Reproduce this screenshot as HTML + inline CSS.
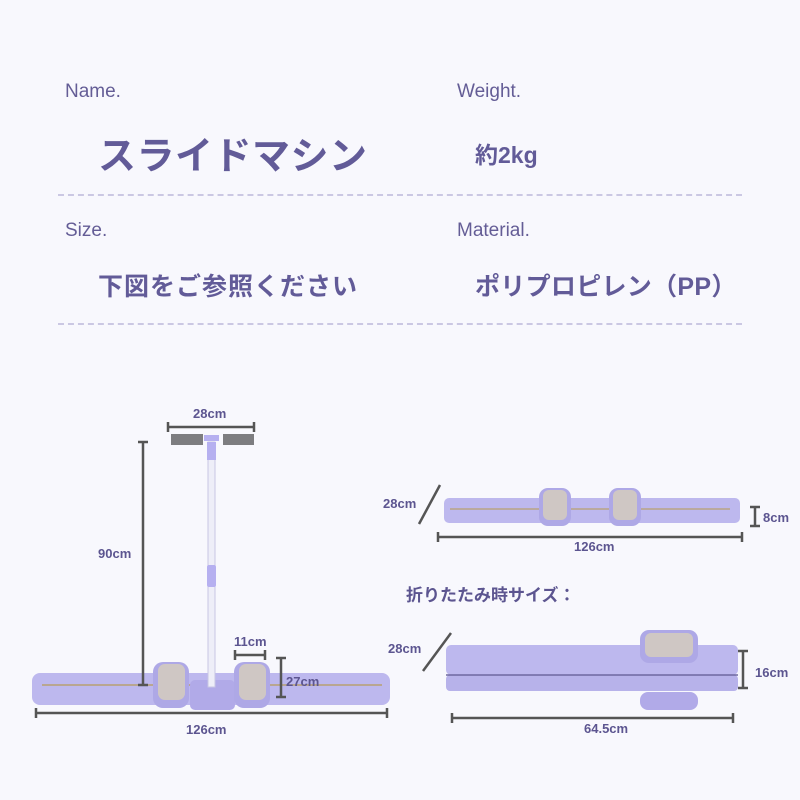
<!DOCTYPE html>
<html><head><meta charset="utf-8"><style>
body{margin:0;width:800px;height:800px;background:#f8f8fd;overflow:hidden;position:relative;font-family:"Liberation Sans","Noto Sans CJK JP",sans-serif;color:#625b98}
.t{position:absolute;white-space:nowrap}
.lab{font-size:19px;color:#645d96}
.b{font-weight:bold}
.dash{position:absolute;left:58px;width:684px;border-top:2px dashed #cbc8e3}
</style></head><body>
<div class="t lab" style="left:65px;top:81px">Name.</div>
<div class="t lab" style="left:457px;top:81px">Weight.</div>
<div class="t b" style="left:98px;top:125px;font-size:38px;letter-spacing:0.5px">スライドマシン</div>
<div class="t b" style="left:475px;top:136px;font-size:23px">約2kg</div>
<div class="dash" style="top:194px"></div>
<div class="t lab" style="left:65px;top:220px">Size.</div>
<div class="t lab" style="left:457px;top:220px">Material.</div>
<div class="t b" style="left:98px;top:267px;font-size:25px;letter-spacing:1px">下図をご参照ください</div>
<div class="t b" style="left:475px;top:267px;font-size:25px;letter-spacing:0.3px">ポリプロピレン（PP）</div>
<div class="dash" style="top:323px"></div>
<svg width="800" height="800" style="position:absolute;left:0;top:0" font-family="Liberation Sans, Noto Sans CJK JP, sans-serif" font-weight="bold" fill="#5c5590">
<!-- left machine -->
<rect x="32" y="673" width="358" height="32" rx="8" fill="#bdb8ee"/>
<line x1="42" y1="685" x2="382" y2="685" stroke="#b8a070" stroke-width="1.5"/>
<rect x="190" y="680" width="45" height="30" rx="5" fill="#b1aae8"/>
<rect x="153" y="662" width="36" height="46" rx="10" fill="#aea8e6"/>
<rect x="158" y="664" width="27" height="36" rx="7" fill="#cfc7c4"/>
<rect x="234" y="662" width="36" height="46" rx="10" fill="#aea8e6"/>
<rect x="239" y="664" width="27" height="36" rx="7" fill="#cfc7c4"/>
<rect x="208" y="442" width="7" height="245" fill="#eeeef8" stroke="#c8c6e4"/>
<rect x="207" y="565" width="9" height="22" rx="2" fill="#b6b0f0"/>
<rect x="207" y="442" width="9" height="18" fill="#b6b0f0"/>
<rect x="204" y="435" width="15" height="6" fill="#b6b0f0"/>
<rect x="171" y="434" width="32" height="11" fill="#7d7d80"/>
<rect x="223" y="434" width="31" height="11" fill="#7d7d80"/>
<!-- right flat -->
<rect x="444" y="498" width="296" height="25" rx="5" fill="#bdb8ee"/>
<line x1="450" y1="509" x2="730" y2="509" stroke="#b8a070" stroke-width="1.2"/>
<rect x="539" y="488" width="32" height="38" rx="9" fill="#aea8e6"/>
<rect x="543" y="490" width="24" height="30" rx="6" fill="#cfc7c4"/>
<rect x="609" y="488" width="32" height="38" rx="9" fill="#aea8e6"/>
<rect x="613" y="490" width="24" height="30" rx="6" fill="#cfc7c4"/>
<!-- folded -->
<rect x="446" y="645" width="292" height="30" rx="5" fill="#bdb8ee"/>
<rect x="446" y="675" width="292" height="16" rx="4" fill="#b7b2ea"/>
<line x1="446" y1="675" x2="738" y2="675" stroke="#6e68a0" stroke-width="1.5"/>
<rect x="640" y="692" width="58" height="18" rx="8" fill="#b1aae8"/>
<rect x="640" y="630" width="58" height="33" rx="9" fill="#aea8e6"/>
<rect x="645" y="633" width="48" height="24" rx="6" fill="#cfc7c4"/>
<g stroke="#555" stroke-width="2.5" fill="none">
<path d="M168 427H254M168 422v10M254 422v10"/>
<path d="M143 442V685M138 442h10M138 685h10"/>
<path d="M235 655H265M235 650v10M265 650v10"/>
<path d="M281 658V697M276 658h10M276 697h10"/>
<path d="M36 713H387M36 708v10M387 708v10"/>
<path d="M440 485L419 524"/>
<path d="M438 537H742M438 532v10M742 532v10"/>
<path d="M755 507V526M750 507h10M750 526h10"/>
<path d="M451 633L423 671"/>
<path d="M743 651V688M738 651h10M738 688h10"/>
<path d="M452 718H733M452 713v10M733 713v10"/>
</g>
<g font-size="13">
<text x="193" y="418">28cm</text>
<text x="98" y="558">90cm</text>
<text x="234" y="646">11cm</text>
<text x="286" y="686">27cm</text>
<text x="186" y="734">126cm</text>
<text x="383" y="508">28cm</text>
<text x="763" y="522">8cm</text>
<text x="574" y="551">126cm</text>
<text x="388" y="653">28cm</text>
<text x="755" y="677">16cm</text>
<text x="584" y="733">64.5cm</text>
</g>
<text x="406" y="601" font-size="17">折りたたみ時サイズ：</text>
</svg>
</body></html>
